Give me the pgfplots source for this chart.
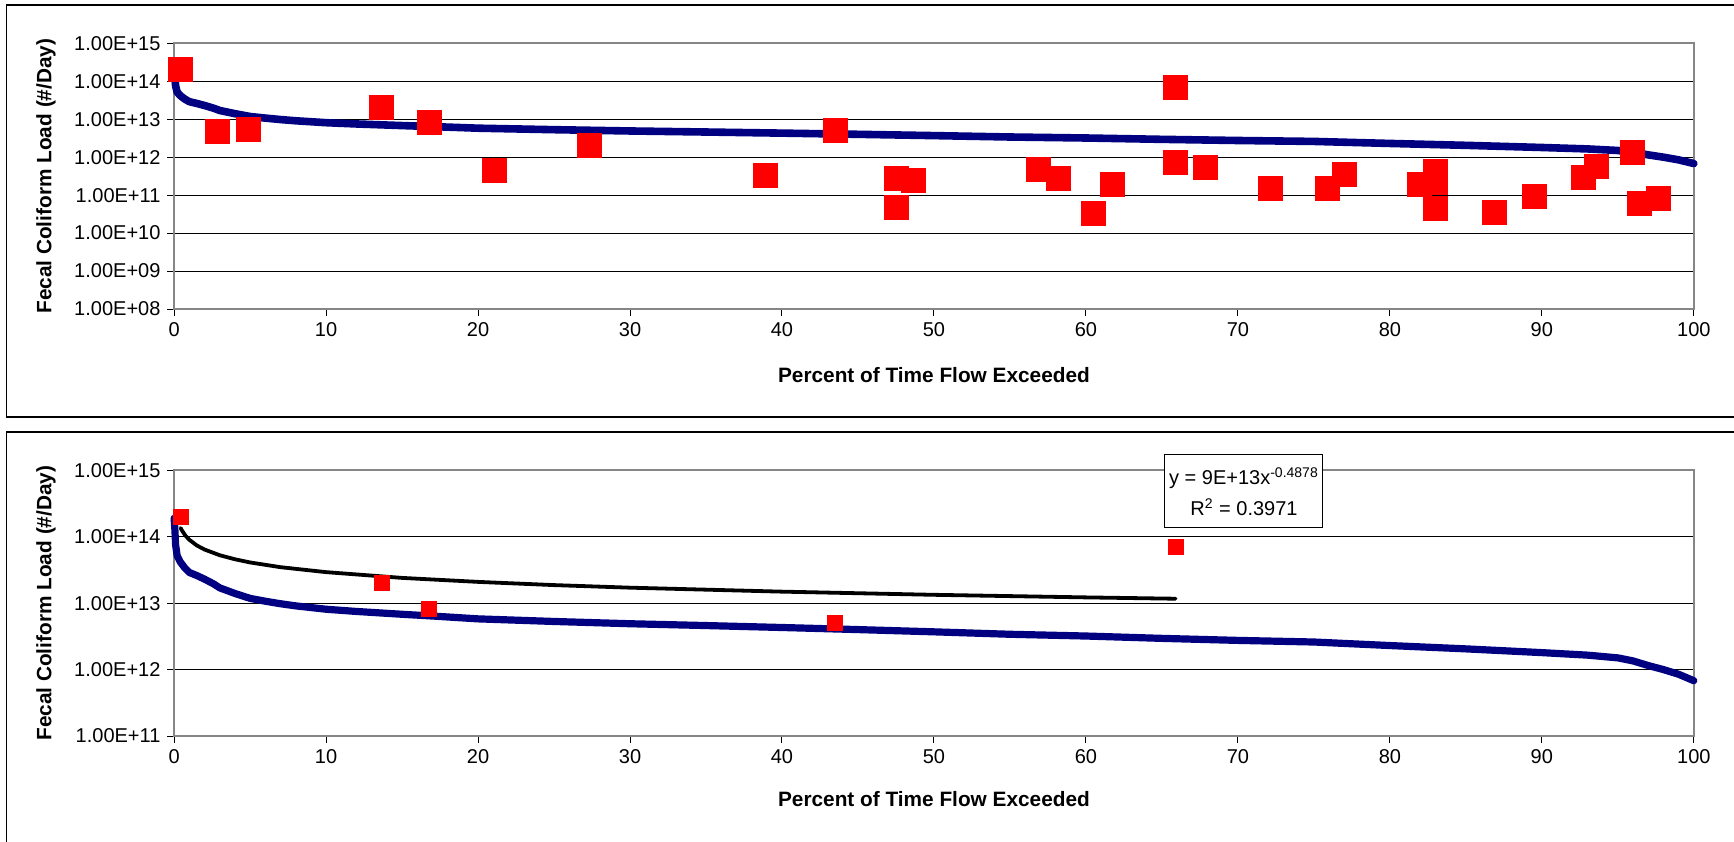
\documentclass[border=0pt]{standalone}
\usepackage{fontspec}
\setmainfont{Liberation Sans}
\usepackage{pgfplots}
\usepackage{pgfplotstable}
\pgfplotsset{compat=1.18}
\definecolor{navy}{RGB}{0,0,128}
\definecolor{axgray}{RGB}{134,134,134}

\pgfplotstableread{
x y
0 1.9e14
0.05 1.3e14
0.1 7.5e13
0.2 5.2e13
0.4 4.2e13
0.7 3.4e13
1.0 2.9e13
1.5 2.6e13
2.0 2.3e13
2.6 1.95e13
3.0 1.7e13
4.0 1.4e13
5.0 1.18e13
6.0 1.07e13
7.0 9.8e12
8.0 9.1e12
10 8.1e12
12 7.5e12
15 6.8e12
17 6.4e12
20 5.8e12
25 5.3e12
30 4.9e12
35 4.6e12
40 4.3e12
45 4.0e12
50 3.7e12
55 3.4e12
60 3.2e12
65 2.95e12
70 2.75e12
75 2.6e12
80 2.3e12
85 2.05e12
90 1.8e12
93 1.65e12
95 1.5e12
96 1.35e12
97 1.15e12
98 1.0e12
99 0.85e12
100 0.68e12
}\flowcurve

\pgfplotstableread{
x y
0.43 2.0e14
2.84 4.7e12
4.91 5.5e12
13.67 2.05e13
16.79 8.3e12
21.09 4.6e11
27.3 2.1e12
38.94 3.3e11
43.5 5.0e12
47.53 2.7e11
48.63 2.5e11
47.53 4.8e10
56.9 4.7e11
58.2 2.8e11
60.52 3.3e10
61.76 1.9e11
65.9 7.0e13
65.9 7.3e11
67.84 5.4e11
72.13 1.55e11
75.88 1.5e11
76.98 3.6e11
81.94 1.94e11
83.0 4.3e11
83.0 2.2e11
83.0 4.5e10
86.88 3.5e10
89.53 9.4e10
92.74 3.0e11
93.58 5.6e11
95.95 1.32e12
96.39 6.0e10
97.7 8.0e10
}\samples

\pgfplotstableread{
x y
0.43 2.0e14
13.67 2.05e13
16.79 8.3e12
43.5 5.0e12
65.9 7.0e13
}\exceed

\pgfplotstableread{
x y
0.43 1.358e14
0.5 1.262e14
0.75 1.036e14
1 9.0e13
1.5 7.38e13
2 6.42e13
3 5.27e13
4 4.58e13
5 4.10e13
7 3.48e13
10 2.93e13
15 2.40e13
20 2.09e13
25 1.87e13
30 1.71e13
40 1.49e13
50 1.335e13
60 1.221e13
65.9 1.166e13
}\trend

\pgfplotsset{
  fcstyle/.style={
    scale only axis, width=759.85pt, height=132.85pt, anchor=south west,
    xmin=0, xmax=100,
    xtick={0,10,...,100}, xticklabels={0,10,20,30,40,50,60,70,80,90,100},
    ymajorgrids, grid style={black, line width=0.5pt},
    yminorticks=false, xminorticks=false,
    axis line style={axgray, line width=1pt},
    tick style={black, line width=0.5pt}, tick align=outside, major tick length=3.3pt,
    xtick pos=bottom, ytick pos=left,
    clip=false,
    tick label style={font=\fontsize{10}{12}\selectfont, black},
    label style={font=\bfseries\fontsize{10.4}{12}\selectfont, black},
    ylabel={Fecal Coliform Load (\#/Day)},
    xlabel={Percent of Time Flow Exceeded},
    ylabel style={at={(axis description cs:-0.0843,0.5)}, anchor=center},
  }
}

\begin{document}
\begin{tikzpicture}
\useasboundingbox (0,0) rectangle (867pt,-420.5pt);
\clip (0,0) rectangle (867pt,-420.5pt);
\draw[black, line width=0.75pt] (3.2pt,-2.4pt) rectangle (880pt,-208.5pt);
\draw[black, line width=0.75pt] (3.3pt,-216pt) rectangle (880pt,-440pt);

\begin{axis}[ymode=log, fcstyle, at={(87.05pt,-154.5pt)},
  ymin=1e8, ymax=1e15,
  ytick={1e8,1e9,1e10,1e11,1e12,1e13,1e14,1e15},
  yticklabels={1.00E+08,1.00E+09,1.00E+10,1.00E+11,1.00E+12,1.00E+13,1.00E+14,1.00E+15},
  xlabel style={at={(axis description cs:0.5,-0.248)}, anchor=center}]
\addplot[navy, line width=3.8pt, line cap=round, line join=round] table[x=x,y=y] {\flowcurve};
\addplot[only marks, mark=square*, mark size=6pt, red, mark options={fill=red, draw=red}] table[x=x,y=y] {\samples};
\end{axis}

\begin{axis}[ymode=log, fcstyle, at={(87.05pt,-368pt)},
  ymin=1e11, ymax=1e15,
  ytick={1e11,1e12,1e13,1e14,1e15},
  yticklabels={1.00E+11,1.00E+12,1.00E+13,1.00E+14,1.00E+15},
  xlabel style={at={(axis description cs:0.5,-0.2356)}, anchor=center}]
\addplot[navy, line width=3.6pt, line cap=round, line join=round] table[x=x,y=y] {\flowcurve};
\addplot[black, line width=1.9pt, line cap=round] table[x=x,y=y] {\trend};
\addplot[only marks, mark=square*, mark size=3.75pt, red, mark options={fill=red, draw=red}] table[x=x,y=y] {\exceed};
\node[draw=black, fill=white, line width=0.5pt, align=center, minimum width=79pt, minimum height=36.5pt, inner sep=1pt, font=\fontsize{10}{15.5}\selectfont] at (axis cs:70.4,4.8e14) {y = 9E+13x\textsuperscript{-0.4878}\\R\textsuperscript{2} = 0.3971};
\end{axis}
\end{tikzpicture}
\end{document}
